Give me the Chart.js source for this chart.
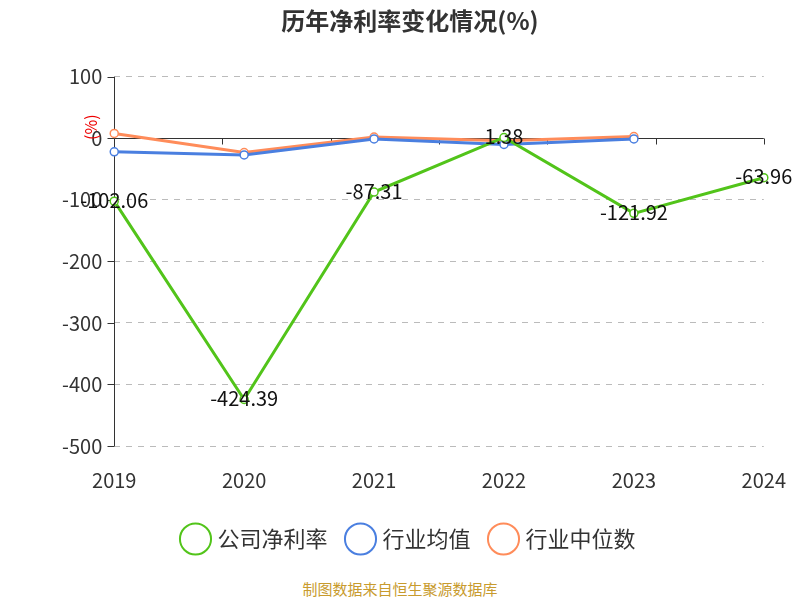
<!DOCTYPE html>
<html><head><meta charset="utf-8">
<script src="https://cdn.jsdelivr.net/npm/chart.js@4"></script>
<style>body{margin:0;background:#fff}#w{width:800px;height:600px;position:relative}</style>
</head><body><div id="w"><canvas id="c" width="800" height="570"></canvas></div>
<script>
const categories=['2019','2020','2021','2022','2023','2024'];
const companyValues=[-102.06,-424.39,-87.31,1.38,-121.92,-63.96];
const industryAvg=[-22,-27,-1,-10,-1,null];
const industryMedian=[8,-23,2,-4,3,null];
const yTicks=[100,0,-100,-200,-300,-400,-500];
const font='"Noto Sans CJK SC","Noto Sans",sans-serif';
const extras={id:'extras',
 beforeDatasetsDraw(ch){const {ctx,scales:{x,y}}=ch;const z=Math.round(y.getPixelForValue(0))+0.5;
  ctx.save();ctx.strokeStyle='#333';ctx.lineWidth=1;ctx.setLineDash([]);ctx.beginPath();
  ctx.moveTo(x.left,z);ctx.lineTo(x.right,z);
  const lx=Math.round(x.left)+0.5;ctx.moveTo(lx,y.top);ctx.lineTo(lx,y.bottom);
  yTicks.forEach(v=>{const py=Math.round(y.getPixelForValue(v))+0.5;ctx.moveTo(lx-7,py);ctx.lineTo(lx,py);});
  for(let i=0;i<=categories.length;i++){const px=Math.round(x.left+(x.right-x.left)*i/categories.length)+0.5;ctx.moveTo(px,z);ctx.lineTo(px,z+6);}
  ctx.stroke();ctx.restore();},
 afterDatasetsDraw(ch){const {ctx}=ch;const m=ch.getDatasetMeta(0);
  ctx.save();ctx.font='20px '+font;ctx.fillStyle='#111';ctx.textAlign='center';ctx.textBaseline='middle';
  m.data.forEach((p,i)=>{ctx.fillText(companyValues[i].toFixed(2),p.x,p.y-1);});ctx.restore();}};
new Chart(document.getElementById('c'),{type:'line',
 data:{labels:categories,datasets:[
  {label:'公司净利率',data:companyValues,borderColor:'#52c41a',backgroundColor:'#fff',borderWidth:3,pointRadius:4,pointBorderWidth:1.5},
  {label:'行业均值',data:industryAvg,borderColor:'#4a7fe0',backgroundColor:'#fff',borderWidth:3,pointRadius:4,pointBorderWidth:1.5},
  {label:'行业中位数',data:industryMedian,borderColor:'#ff8c5a',backgroundColor:'#fff',borderWidth:3,pointRadius:4,pointBorderWidth:1.5}]},
 options:{responsive:false,animation:false,
  layout:{padding:{left:50,right:30,top:0,bottom:10}},
  plugins:{title:{display:true,text:'历年净利率变化情况(%)',font:{family:font,size:24,weight:'bold'},color:'#333',padding:{top:6,bottom:42}},
   legend:{position:'bottom',labels:{usePointStyle:true,pointStyle:'circle',boxWidth:50,padding:22,font:{family:font,size:22},color:'#333',
    generateLabels(ch){return ch.data.datasets.map((d,i)=>({text:d.label,strokeStyle:d.borderColor,fillStyle:'#fff',lineWidth:2,pointStyle:'circle',datasetIndex:i,fontColor:'#333'}));}}},
   tooltip:{enabled:false}},
  scales:{
   x:{grid:{display:false},border:{display:false},ticks:{font:{family:font,size:20},color:'#333',padding:14,maxRotation:0}},
   y:{min:-500,max:100,afterBuildTicks(s){s.ticks=yTicks.map(v=>({value:v}));},
    title:{display:false},
    border:{display:false,dash:[6,6]},
    grid:{color:c=>c.tick.value===0?'rgba(0,0,0,0)':'#bbb',drawTicks:false},
    ticks:{font:{family:font,size:20},color:'#333',padding:12}}}},
 plugins:[extras]});
</script>
<div style="position:absolute;left:78px;top:112px;transform:rotate(-90deg);transform-origin:left top;font:16px 'Noto Sans CJK SC',sans-serif;color:#e00;top:140px">(%)</div>
<div style="position:absolute;left:0;top:578px;width:800px;text-align:center;font:15px 'Noto Sans CJK SC',sans-serif;color:#c89b2e">制图数据来自恒生聚源数据库</div>
</div>
</body></html>
